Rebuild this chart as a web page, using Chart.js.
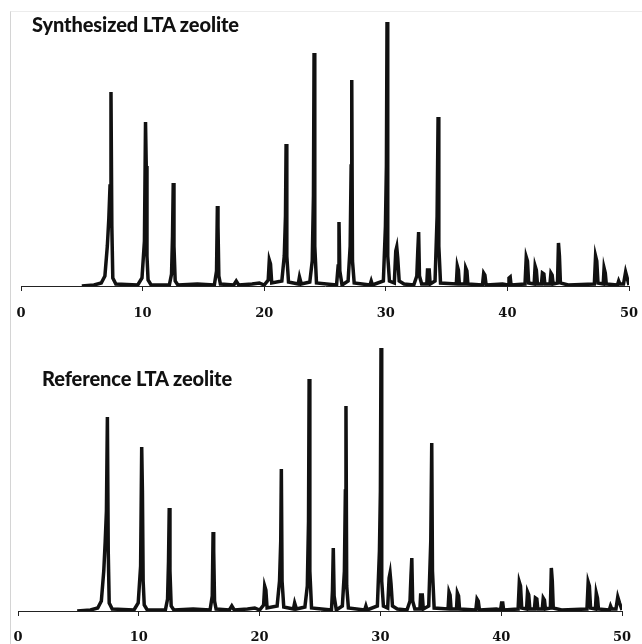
<!DOCTYPE html>
<html>
<head>
<meta charset="utf-8">
<script src="https://cdn.jsdelivr.net/npm/chart.js@4/dist/chart.umd.min.js"></script>
<style>
  html, body { margin: 0; padding: 0; background: #fff; }
  body { width: 642px; height: 644px; position: relative; overflow: hidden; }
  #frame { position: absolute; left: 10px; top: 11px; right: 0; bottom: 0;
           border-left: 1px solid #d4d4d4; border-top: 1px solid #ececec; }
  .panel { position: absolute; left: 0; width: 642px; height: 322px; }
  #p1 { top: 0; }
  #p2 { top: 322px; }
  .title { position: absolute; font-family: Lato, "Open Sans", sans-serif; font-weight: 900;
           font-size: 20px; line-height: 20px; color: #111; letter-spacing: -0.1px; white-space: nowrap; }
  #t1 { left: 32px; top: 14px; }
  #t2 { left: 42px; top: 368px; }
</style>
</head>
<body>
<div id="frame"></div>
<div class="panel" id="p1"><canvas id="c1" width="642" height="322"></canvas></div>
<div class="panel" id="p2"><canvas id="c2" width="642" height="322"></canvas></div>
<div class="title" id="t1">Synthesized LTA zeolite</div>
<div class="title" id="t2">Reference LTA zeolite</div>
<script>
// 2θ axis tick labels
const xTicks = [0, 10, 20, 30, 40, 50];

// Synthesized LTA zeolite: 2θ (degrees) and intensity (a.u.)
const synthTheta = [
  5.0, 6.0, 6.6, 6.9, 7.1, 7.22, 7.32, 7.4, 7.47, 7.55, 7.8,
  9.6, 9.95, 10.15, 10.24, 10.3, 10.36, 10.45, 10.7,
  12.2, 12.38, 12.46, 12.52, 12.58, 12.68, 12.9,
  14.5, 15.9, 16.08, 16.15, 16.2, 16.27, 16.4,
  17.5, 17.7, 17.9, 19.0, 19.6, 20.0,
  20.33, 20.42, 20.52, 20.62,
  21.45, 21.65, 21.75, 21.8, 21.86, 22.0,
  22.8, 22.9, 23.05,
  23.75, 23.95, 24.05, 24.1, 24.16, 24.3,
  25.95, 26.08, 26.15, 26.22, 26.4,
  26.9, 27.07, 27.15, 27.2, 27.26, 27.4,
  28.7, 28.8, 28.9,
  29.8, 29.97, 30.05, 30.1, 30.16, 30.3,
  30.7, 30.82, 30.9, 30.98, 31.1, 31.5,
  32.3, 32.55, 32.63, 32.7, 32.77, 32.95,
  33.37, 33.43, 33.57, 33.65,
  34.05, 34.22, 34.3, 34.36, 34.5,
  35.8, 35.88, 35.97, 36.05,
  36.5, 36.57, 36.67, 36.75,
  37.95, 38.05, 38.15, 38.25,
  39.6, 40.05, 40.13, 40.23, 40.3,
  41.45, 41.55, 41.65, 41.75,
  42.2, 42.28, 42.38, 42.47,
  42.8, 42.88, 43.0, 43.08,
  43.5, 43.58, 43.68, 43.76,
  44.12, 44.2, 44.28, 44.36,
  45.0, 47.15, 47.25, 47.35, 47.45,
  47.88, 47.95, 48.05, 48.13,
  49.05, 49.15, 49.25, 49.55, 49.72, 49.85, 50.0
];
const synthCounts = [
  0, 1, 3, 10, 40, 67, 100, 194, 60, 8, 2,
  1, 8, 45, 164, 120, 30, 6, 1,
  1, 12, 50, 103, 40, 5, 1,
  2, 1, 15, 80, 60, 10, 2,
  1, 5, 1, 2, 3, 1,
  6, 26, 22, 3,
  5, 30, 70, 142, 30, 4,
  2, 9, 2,
  4, 25, 90, 233, 40, 3,
  1, 20, 64, 15, 1,
  5, 40, 120, 206, 25, 3,
  1, 5, 1,
  5, 60, 120, 264, 30, 5,
  3, 35, 39, 28, 5, 2,
  1, 10, 35, 54, 10, 2,
  2, 16, 16, 2,
  5, 70, 169, 40, 3,
  2, 20, 16, 2,
  2, 18, 15, 2,
  1, 13, 11, 1,
  2, 1, 8, 9, 1,
  2, 29, 25, 3,
  2, 20, 16, 2,
  2, 13, 12, 2,
  2, 13, 11, 2,
  3, 43, 30, 3,
  1, 2, 30, 25, 3,
  2, 18, 13, 2,
  1, 5, 2, 2, 14, 8, 1
];

// Reference LTA zeolite: 2θ (degrees) and intensity (a.u.)
const refTheta = [
  4.9, 6.0, 6.6, 6.9, 7.1, 7.22, 7.32, 7.4, 7.47, 7.55, 7.8,
  9.6, 9.95, 10.15, 10.24, 10.3, 10.36, 10.45, 10.7,
  12.2, 12.38, 12.46, 12.52, 12.58, 12.68, 12.9,
  14.5, 15.9, 16.08, 16.15, 16.2, 16.27, 16.4,
  17.5, 17.7, 17.9, 19.0, 19.6, 20.0,
  20.33, 20.42, 20.52, 20.62,
  21.45, 21.65, 21.75, 21.8, 21.86, 22.0,
  22.8, 22.9, 23.05,
  23.75, 23.95, 24.05, 24.1, 24.16, 24.3,
  25.95, 26.03, 26.1, 26.17, 26.35,
  26.85, 27.02, 27.1, 27.15, 27.21, 27.35,
  28.7, 28.8, 28.9,
  29.75, 29.92, 30.0, 30.05, 30.11, 30.25,
  30.6, 30.72, 30.8, 30.88, 31.0, 31.4,
  32.2, 32.45, 32.53, 32.6, 32.67, 32.85,
  33.27, 33.33, 33.47, 33.55,
  34.0, 34.17, 34.25, 34.31, 34.45,
  35.6, 35.68, 35.77, 35.85,
  36.3, 36.37, 36.47, 36.55,
  37.9, 38.0, 38.1, 38.2,
  39.6, 39.95, 40.03, 40.13, 40.2,
  41.4, 41.5, 41.6, 41.7,
  42.1, 42.18, 42.28, 42.37,
  42.75, 42.83, 42.95, 43.03,
  43.4, 43.48, 43.58, 43.66,
  44.07, 44.15, 44.23, 44.31,
  45.0, 47.1, 47.2, 47.3, 47.4,
  47.8, 47.87, 47.97, 48.05,
  48.95, 49.05, 49.15, 49.5, 49.65, 49.8, 50.0
];
const refCounts = [
  0, 1, 3, 10, 40, 70, 100, 194, 60, 8, 2,
  1, 8, 45, 164, 120, 30, 6, 1,
  1, 12, 50, 103, 40, 5, 1,
  2, 1, 15, 79, 60, 10, 2,
  1, 5, 1, 2, 3, 1,
  6, 25, 21, 3,
  5, 30, 70, 142, 30, 4,
  2, 8, 2,
  4, 25, 90, 232, 40, 3,
  1, 20, 63, 15, 1,
  5, 40, 120, 205, 25, 3,
  1, 5, 1,
  5, 60, 120, 263, 30, 5,
  3, 33, 38, 27, 5, 2,
  1, 10, 35, 53, 10, 2,
  2, 16, 16, 2,
  5, 70, 168, 40, 3,
  2, 19, 16, 2,
  2, 18, 15, 2,
  1, 12, 10, 1,
  2, 1, 8, 8, 1,
  2, 29, 25, 3,
  2, 19, 16, 2,
  2, 13, 12, 2,
  2, 13, 11, 2,
  3, 43, 30, 3,
  1, 2, 29, 25, 3,
  2, 18, 13, 2,
  1, 5, 2, 2, 14, 8, 1
];

function toPoints(xs, ys) { return xs.map((x, i) => ({ x: x, y: ys[i] })); }

function makeChart(id, xs, ys, pad, axisHeight, tickPad) {
  return new Chart(document.getElementById(id), {
    type: 'line',
    data: {
      datasets: [{
        data: toPoints(xs, ys),
        borderColor: '#111111',
        borderWidth: 3.5,
        pointRadius: 0,
        tension: 0,
        fill: false
      }]
    },
    options: {
      responsive: false,
      animation: false,
      events: [],
      layout: { padding: pad },
      plugins: { legend: { display: false }, tooltip: { enabled: false }, title: { display: false } },
      scales: {
        x: {
          type: 'linear',
          min: 0, max: 50,
          afterBuildTicks: (scale) => { scale.ticks = xTicks.map(v => ({ value: v })); },
          afterFit: (scale) => { scale.height = axisHeight; scale.paddingLeft = 0; scale.paddingRight = 0; },
          border: { display: true, color: '#222', width: 1 },
          grid: { display: true, drawOnChartArea: false, drawTicks: true, tickLength: 5, color: '#222', lineWidth: 1 },
          ticks: {
            padding: tickPad,
            color: '#111',
            maxRotation: 0,
            font: { family: '"DejaVu Serif", "Liberation Serif", serif', weight: 'bold', size: 13 }
          }
        },
        y: {
          display: false,
          min: 0, max: 270
        }
      }
    }
  });
}

makeChart('c1', synthTheta, synthCounts, { left: 21, right: 13, top: 16, bottom: 0 }, 36, 15);
makeChart('c2', refTheta, refCounts, { left: 18, right: 20, top: 19, bottom: 0 }, 33, 14);
</script>
</body>
</html>
